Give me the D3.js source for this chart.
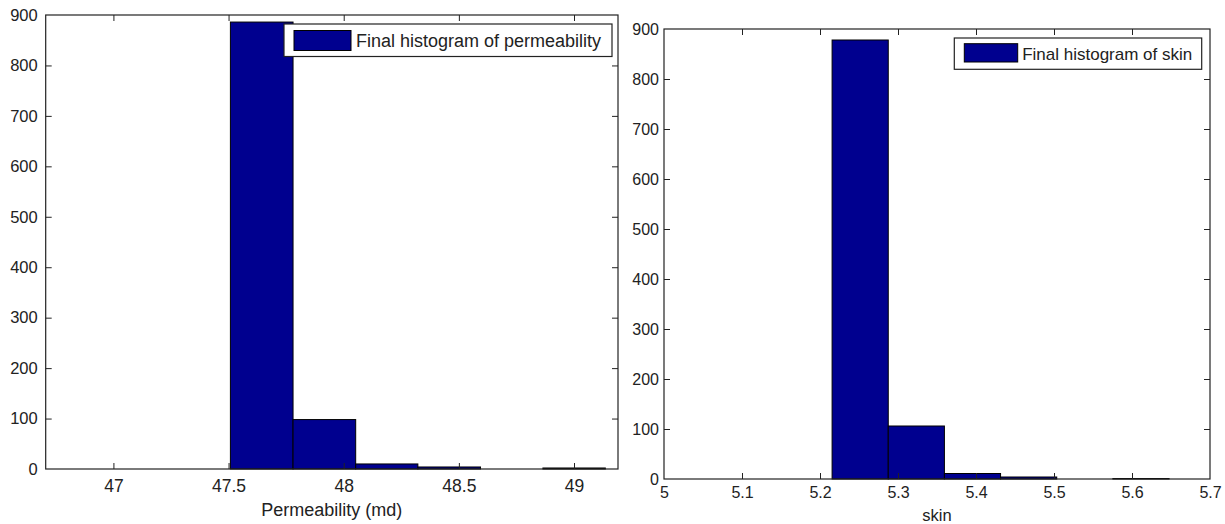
<!DOCTYPE html>
<html>
<head>
<meta charset="utf-8">
<script src="https://cdn.jsdelivr.net/npm/d3@7"></script>
<style>
  html, body { margin: 0; padding: 0; background: #fff; }
  svg { display: block; font-family: "Liberation Sans", Arial, sans-serif; }
</style>
</head>
<body>
<svg id="chart" width="1225" height="524"></svg>
<script>
// Histogram of permeability samples (md): bin edges and counts
const permEdges  = [47.508, 47.780, 48.052, 48.322, 48.594, 48.865, 49.136];
const permCounts = [886, 98, 10, 4, 0, 2];
const permXTicks = [47, 47.5, 48, 48.5, 49];

// Histogram of skin samples: bin edges and counts
const skinEdges  = [5.2155, 5.2875, 5.3595, 5.4315, 5.5035, 5.5755, 5.6475];
const skinCounts = [878, 106, 11, 4, 0, 1];
const skinXTicks = [5, 5.1, 5.2, 5.3, 5.4, 5.5, 5.6, 5.7];

const yTicks = [0, 100, 200, 300, 400, 500, 600, 700, 800, 900];

const BAR = "#00008f";
const INK = "#222";

const svg = d3.select("#chart");

function drawPanel(cfg) {
  const { left, right, top, bottom } = cfg.box;
  const x = d3.scaleLinear().domain(cfg.xDomain).range([left, right]);
  const y = d3.scaleLinear().domain([0, 900]).range([bottom, top]);
  const g = svg.append("g");

  // bars
  const bins = cfg.counts.map((c, i) => ({ x0: cfg.edges[i], x1: cfg.edges[i + 1], c }));
  g.selectAll("rect.bar").data(bins.filter(d => d.c > 0)).join("rect")
    .attr("class", "bar")
    .attr("x", d => x(d.x0))
    .attr("width", d => x(d.x1) - x(d.x0))
    .attr("y", d => y(d.c))
    .attr("height", d => y(0) - y(d.c))
    .attr("fill", BAR)
    .attr("stroke", "#000")
    .attr("stroke-width", 1);

  // axes: ticks point inward on all four sides
  const tl = 6;
  const bottomAxis = d3.axisBottom(x).tickValues(cfg.xTicks).tickSize(-tl).tickPadding(cfg.xPad).tickFormat(d3.format("~g"));
  const topAxis = d3.axisTop(x).tickValues(cfg.xTicks).tickSize(-tl).tickFormat("");
  const leftAxis = d3.axisLeft(y).tickValues(yTicks).tickSize(-tl).tickPadding(cfg.yPad).tickFormat(d3.format("d"));
  const rightAxis = d3.axisRight(y).tickValues(yTicks).tickSize(-tl).tickFormat("");

  const axB = g.append("g").attr("transform", `translate(0,${bottom})`).call(bottomAxis);
  const axT = g.append("g").attr("transform", `translate(0,${top})`).call(topAxis);
  const axL = g.append("g").attr("transform", `translate(${left},0)`).call(leftAxis);
  const axR = g.append("g").attr("transform", `translate(${right},0)`).call(rightAxis);

  [axB, axT, axL, axR].forEach(a => {
    a.select(".domain").remove();
    a.selectAll(".tick line").attr("stroke", INK).attr("stroke-width", 1);
    a.selectAll("text").attr("fill", INK).attr("font-family", "Liberation Sans, Arial, sans-serif");
  });
  axB.selectAll("text").attr("font-size", cfg.xFont).attr("dy", "0.71em");
  axL.selectAll("text").attr("font-size", cfg.yFont);
  // end ticks coincide with the frame; hide the ones sitting on the edges
  [axB, axT].forEach(a => a.selectAll(".tick").filter(d => Math.abs(x(d) - left) < 1 || Math.abs(x(d) - right) < 1).select("line").remove());
  [axL, axR].forEach(a => a.selectAll(".tick").filter(d => Math.abs(y(d) - top) < 1 || Math.abs(y(d) - bottom) < 1).select("line").remove());

  // frame
  g.append("rect")
    .attr("x", left).attr("y", top)
    .attr("width", right - left).attr("height", bottom - top)
    .attr("fill", "none").attr("stroke", INK).attr("stroke-width", 1.2);

  // x-axis title
  g.append("text")
    .attr("x", (left + right) / 2).attr("y", cfg.labelY)
    .attr("text-anchor", "middle")
    .attr("font-size", cfg.labelFont).attr("fill", INK)
    .text(cfg.xLabel);

  // legend
  const L = cfg.legend;
  const lg = g.append("g");
  lg.append("rect")
    .attr("x", L.x).attr("y", L.y).attr("width", L.w).attr("height", L.h)
    .attr("fill", "#fff").attr("stroke", INK).attr("stroke-width", 1.2);
  lg.append("rect")
    .attr("x", L.x + L.swX).attr("y", L.y + L.swY).attr("width", L.swW).attr("height", L.swH)
    .attr("fill", BAR).attr("stroke", "#000").attr("stroke-width", 1);
  lg.append("text")
    .attr("x", L.x + L.swX + L.swW + L.gap).attr("y", L.y + L.h / 2)
    .attr("dy", "0.35em").attr("font-size", L.font).attr("fill", INK)
    .text(cfg.legendText);
}

drawPanel({
  box: { left: 45.7, right: 618, top: 15, bottom: 469 },
  xDomain: [46.706, 49.191],
  edges: permEdges, counts: permCounts, xTicks: permXTicks,
  xFont: "17.5px", yFont: "16.5px", xPad: 11, yPad: 8,
  xLabel: "Permeability (md)", labelY: 516, labelFont: "18px",
  legendText: "Final histogram of permeability",
  legend: { x: 284, y: 24, w: 328, h: 32.5, swX: 10, swY: 6.5, swW: 57, swH: 20, gap: 5, font: "18px" }
});

drawPanel({
  box: { left: 664, right: 1210, top: 29, bottom: 479 },
  xDomain: [5, 5.7],
  edges: skinEdges, counts: skinCounts, xTicks: skinXTicks,
  xFont: "16px", yFont: "16px", xPad: 8, yPad: 5,
  xLabel: "skin", labelY: 521, labelFont: "16.5px",
  legendText: "Final histogram of skin",
  legend: { x: 954.3, y: 38, w: 247.4, h: 31.3, swX: 10, swY: 5.7, swW: 53.4, swH: 18.3, gap: 4.5, font: "17px" }
});
</script>
</body>
</html>
